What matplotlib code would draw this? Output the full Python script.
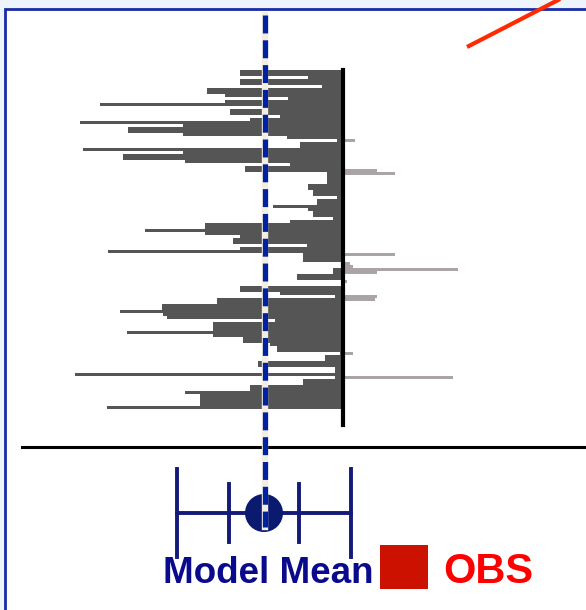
import matplotlib.pyplot as plt
import numpy as np
from matplotlib.patches import Rectangle, Circle

# bias of each model member relative to OBS (one row per member, top to bottom)
neg_bias = [-103, -103, -35, -103, -103, -21, -136, -136, -118, -55,
            -118, -243, -80, -113, -113, -63, -93, -263, -160, -215,
            -215, -160, -56, -6, -43, -43, -260, -160, -220, -220,
            -158, -53, -98, -98, -16, -16, -16, -16, -35, -35,
            -30, -30, -6, -26, -26, -70, -35, -30, -30, -10,
            -53, -138, -138, -198, -138, -103, -110, -110, -36, -103,
            -235, -40, -40, -40, 0, 0, -10, -10, -46, -46,
            0, 0, -103, -103, -63, -8, -126, -126, -181, -181,
            -223, -180, -176, -68, -130, -130, -130, -216, -130, -100,
            -100, -73, -66, -66, -3, -18, -18, -85, -85, -8,
            -8, -268, -8, -40, -40, -93, -93, -158, -143, -143,
            -143, -143, -236]
pos_rows = [23, 33, 34, 61, 64, 65, 66, 67, 70, 75, 76, 94, 102]
pos_bias = [12, 34, 52, 52, 7, 10, 115, 34, 4, 34, 32, 10, 110]

model_mean = -79
model_inner = 35
model_outer = 87

W, H = 586, 610
obs_x = 343          # pixel column of the OBS line
row_top, row_h = 70, 3

fig = plt.figure(figsize=(W / 100, H / 100), dpi=100)
fig.patch.set_facecolor('#eef4fb')
ax = fig.add_axes([0, 0, 1, 1])
ax.set_xlim(-obs_x, W - obs_x)
ax.set_ylim(H, 0)
ax.axis('off')

# white panel with blue frame (left + top)
ax.add_patch(Rectangle((5 - obs_x, 9), W, H, facecolor='white', edgecolor='none', zorder=0))
ax.plot([5 - obs_x, 5 - obs_x, W - obs_x], [H, 9, 9], color='#1a2aa8', lw=2, zorder=1,
        solid_joinstyle='miter')

n = len(neg_bias)
ys = row_top + row_h * np.arange(n) + row_h / 2
ax.barh(ys, neg_bias, height=row_h, color='#555555', linewidth=0, zorder=2)
pos_y = row_top + row_h * np.array(pos_rows) + row_h / 2
ax.barh(pos_y, pos_bias, height=row_h * 0.8, color='#aaa4a4', linewidth=0, zorder=2)

# OBS line
ax.plot([0, 0], [row_top, 425], color='black', lw=3, zorder=3)

# horizontal axis
ax.plot([22 - obs_x, W - obs_x], [447, 447], color='black', lw=2.2, zorder=3)

# model spread whiskers
navy = '#141a78'
ey = 513
ax.plot([model_mean - model_outer, model_mean + model_outer], [ey, ey], color=navy, lw=2.8, zorder=4)
for dx, half in [(model_outer, 44), (model_inner, 29)]:
    for s in (-1, 1):
        ax.plot([model_mean + s * dx] * 2, [ey - half, ey + half], color=navy, lw=2.8, zorder=4)
ax.add_patch(Circle((model_mean, ey), 19, facecolor='#0a1a6e', edgecolor='none', zorder=5))

# dashed model-mean line
ax.plot([model_mean + 1, model_mean + 1], [15, 527], color='#f3ede2', lw=4.6, zorder=5)
ax.plot([model_mean + 1, model_mean + 1], [15, 527], color='#0022a0', lw=3.8, zorder=6,
        linestyle=(0, (3.4, 1.3)))

# red pointer line at top right
ax.plot([467 - obs_x, 562 - obs_x], [47, -2], color='#ff2a00', lw=3, zorder=6,
        solid_capstyle='butt', clip_on=False)

# legend text
ax.text(163 - obs_x, 583, 'Model Mean', color='#0a0a8c', fontsize=26.5, fontweight='bold',
        family='Liberation Sans', ha='left', va='baseline', zorder=7)
ax.add_patch(Rectangle((380 - obs_x, 545), 48, 44, facecolor='#cc1100', edgecolor='none', zorder=7))
ax.text(443 - obs_x, 583, 'OBS', color='#ff0000', fontsize=30, fontweight='bold',
        family='Liberation Sans', ha='left', va='baseline', zorder=7)

fig.savefig('out.png', dpi=100)
